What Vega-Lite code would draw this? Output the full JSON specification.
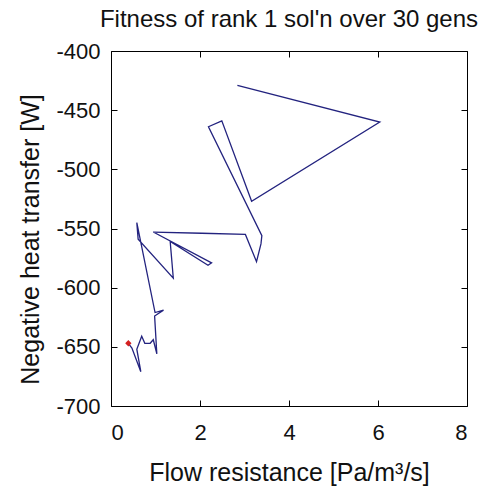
{
  "$schema": "https://vega.github.io/schema/vega-lite/v6.json",
  "width": 356,
  "height": 355,
  "autosize": "none",
  "padding": {"left": 111, "top": 51, "right": 26, "bottom": 80},
  "background": "white",
  "title": {
    "text": "Fitness of rank 1 sol'n over 30 gens",
    "font": "Liberation Sans",
    "fontSize": 24,
    "fontWeight": "normal",
    "color": "#111",
    "baseline": "alphabetic",
    "offset": -11,
    "anchor": "middle"
  },
  "config": {
    "view": {"stroke": "#000", "strokeWidth": 1},
    "axis": {
      "grid": false,
      "domain": false,
      "labelFont": "Liberation Sans",
      "labelFontSize": 22,
      "labelColor": "#111",
      "titleFont": "Liberation Sans",
      "titleFontSize": 25,
      "titleFontWeight": "normal",
      "titleColor": "#111",
      "tickColor": "#000",
      "tickSize": -6,
      "tickWidth": 1,
      "labelExpr": "replace(datum.label, '\u2212', '-')"
    }
  },
  "datasets": {
    "path": [
      {"gen": 1, "x": 2.84, "y": -429},
      {"gen": 2, "x": 6.04, "y": -460},
      {"gen": 3, "x": 3.16, "y": -527},
      {"gen": 4, "x": 2.49, "y": -459},
      {"gen": 5, "x": 2.19, "y": -464},
      {"gen": 6, "x": 3.39, "y": -556},
      {"gen": 7, "x": 3.37, "y": -563},
      {"gen": 8, "x": 3.27, "y": -578},
      {"gen": 9, "x": 3.02, "y": -555},
      {"gen": 10, "x": 2.04, "y": -554},
      {"gen": 11, "x": 0.95, "y": -553},
      {"gen": 12, "x": 2.26, "y": -579},
      {"gen": 13, "x": 2.18, "y": -581},
      {"gen": 14, "x": 1.33, "y": -561},
      {"gen": 15, "x": 1.40, "y": -592},
      {"gen": 16, "x": 0.61, "y": -559},
      {"gen": 17, "x": 0.58, "y": -545},
      {"gen": 18, "x": 0.99, "y": -621},
      {"gen": 19, "x": 1.18, "y": -619},
      {"gen": 20, "x": 0.98, "y": -624},
      {"gen": 21, "x": 1.03, "y": -656},
      {"gen": 22, "x": 0.95, "y": -644},
      {"gen": 23, "x": 0.88, "y": -647},
      {"gen": 24, "x": 0.76, "y": -647},
      {"gen": 25, "x": 0.69, "y": -641},
      {"gen": 26, "x": 0.58, "y": -652},
      {"gen": 27, "x": 0.67, "y": -671},
      {"gen": 28, "x": 0.47, "y": -651},
      {"gen": 29, "x": 0.39, "y": -647}
    ],
    "best": [
      {"gen": 29, "x": 0.39, "y": -647}
    ]
  },
  "layer": [
    {
      "data": {"name": "path"},
      "mark": {"type": "line", "color": "#23237f", "strokeWidth": 1.3},
      "encoding": {
        "x": {
          "field": "x", "type": "quantitative",
          "scale": {"domain": [0, 8], "nice": false, "zero": false},
          "axis": {
            "orient": "bottom",
            "values": [0, 2, 4, 6, 8],
            "labelPadding": 22,
            "title": "Flow resistance [Pa/m³/s]",
            "titleBaseline": "alphabetic",
            "titleY": 74
          }
        },
        "y": {
          "field": "y", "type": "quantitative",
          "scale": {"domain": [-700, -400], "nice": false, "zero": false},
          "axis": {
            "orient": "left",
            "values": [-700, -650, -600, -550, -500, -450, -400],
            "labelPadding": 17,
            "title": "Negative heat transfer [W]",
            "titleBaseline": "alphabetic",
            "titleX": -73,
            "titleY": 188
          }
        },
        "order": {"field": "gen", "type": "quantitative"}
      }
    },
    {
      "data": {"name": "best"},
      "mark": {"type": "point", "shape": "diamond", "filled": true, "color": "#d42020", "size": 40, "opacity": 1},
      "encoding": {
        "x": {
          "field": "x", "type": "quantitative",
          "axis": {"orient": "top", "values": [0, 2, 4, 6, 8], "labels": false, "title": null}
        },
        "y": {
          "field": "y", "type": "quantitative",
          "axis": {"orient": "right", "values": [-700, -650, -600, -550, -500, -450, -400], "labels": false, "title": null}
        }
      }
    }
  ],
  "resolve": {"axis": {"x": "independent", "y": "independent"}}
}
